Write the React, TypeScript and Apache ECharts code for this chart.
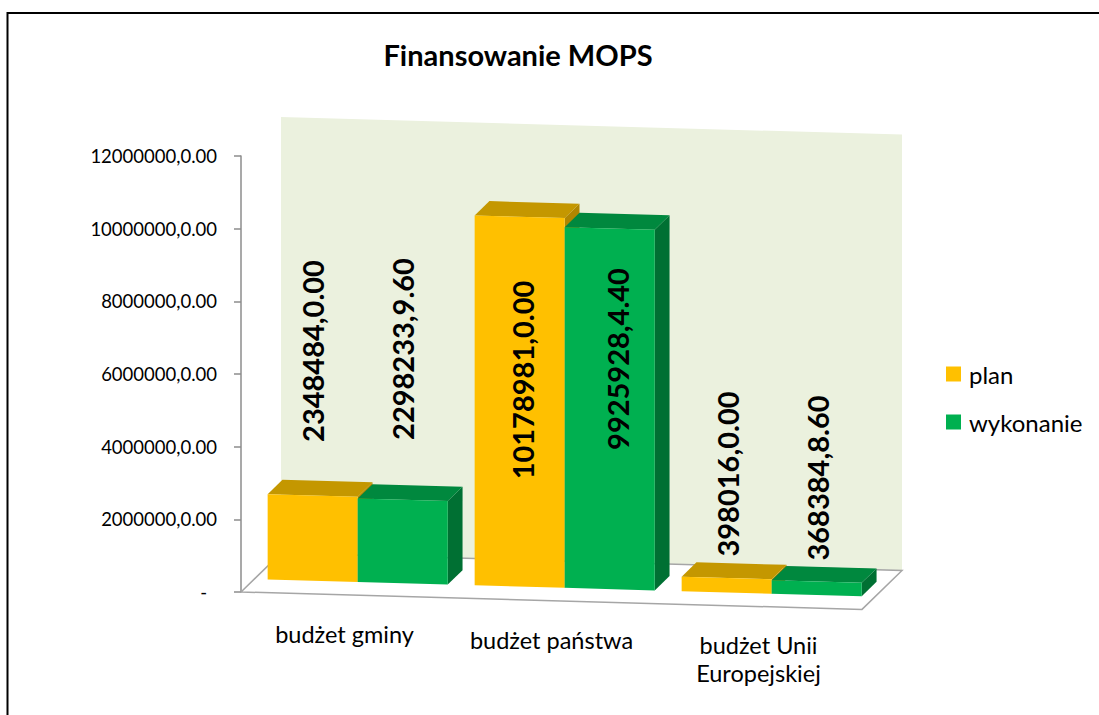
import React, { useEffect, useRef } from "react";
import * as echarts from "echarts";

// ---------- data ----------
const categories = ["budżet gminy", "budżet państwa", "budżet Unii\nEuropejskiej"];
const seriesNames = ["plan", "wykonanie"];
const planValues = [2348484.0, 10178981.0, 398016.0];
const wykonanieValues = [2298233.96, 9925928.44, 368384.86];
const planLabels = ["2348484,0.00", "10178981,0.00", "398016,0.00"];
const wykonanieLabels = ["2298233,9.60", "9925928,4.40", "368384,8.60"];
const yTickLabels = [
  "-",
  "2000000,0.00",
  "4000000,0.00",
  "6000000,0.00",
  "8000000,0.00",
  "10000000,0.00",
  "12000000,0.00",
];
const Y_MAX = 12000000;
const Y_STEP = 2000000;
const titleText = "Finansowanie MOPS";

// ---------- layout / style ----------
const FONT = "Lato, 'Open Sans', sans-serif";
const DX = 40; // depth vector (x)
const DY = 40; // depth vector (y, upward)
const SLOPE = 0.028; // perspective slope of horizontal edges
const D_FRONT = 0.33;
const D_BACK = 0.7;
const BAR_FRAC = 0.435;
// label centres (pixel y) and small x shifts, per series / category
const LABEL_MID_Y = [
  [351, 380, 474],
  [349, 359, 478],
];
const LABEL_DX = [
  [0, 3, 1],
  [0, 8, 1],
];
const COLORS = [
  { front: "#FFC000", top: "#C49700", side: "#B08600" },
  { front: "#00B050", top: "#00883E", side: "#007033" },
];

function makeBarRender(si: number, labels: string[]) {
  return (params: any, api: any) => {
    const cs = params.coordSys;
    const X0 = cs.x;
    const ci = api.value(0);
    const v = api.value(1);
    const band = api.size([1, 0])[0];
    const center = api.coord([ci, 0])[0];
    const bw = band * BAR_FRAC;
    const l0 = si === 0 ? center - bw : center;
    const r0 = l0 + bw;
    const P = (x0: number, val: number, d: number) => {
      const sx = x0 + d * DX;
      const sy = api.coord([ci, val])[1] + SLOPE * (sx - X0) - d * DY;
      return [sx, sy];
    };
    const c = COLORS[si];
    const front = [P(l0, 0, D_FRONT), P(r0, 0, D_FRONT), P(r0, v, D_FRONT), P(l0, v, D_FRONT)];
    const top = [P(l0, v, D_FRONT), P(r0, v, D_FRONT), P(r0, v, D_BACK), P(l0, v, D_BACK)];
    const side = [P(r0, 0, D_FRONT), P(r0, 0, D_BACK), P(r0, v, D_BACK), P(r0, v, D_FRONT)];
    const fc = (front[0][0] + front[1][0]) / 2;
    return {
      type: "group",
      children: [
        { type: "polygon", shape: { points: side }, style: { fill: c.side } },
        { type: "polygon", shape: { points: top }, style: { fill: c.top } },
        { type: "polygon", shape: { points: front }, style: { fill: c.front } },
        {
          type: "text",
          x: fc + LABEL_DX[si][ci],
          y: LABEL_MID_Y[si][ci],
          rotation: Math.PI / 2,
          z2: 10,
          style: {
            text: labels[ci],
            fontSize: 29,
            fontWeight: "bold",
            fontFamily: FONT,
            fill: "#000",
            align: "center",
            verticalAlign: "middle",
          },
        },
      ],
    };
  };
}

const renderBg = (params: any, api: any) => {
  const cs = params.coordSys;
  const X0 = cs.x;
  const X1 = cs.x + cs.width;
  const ci = api.value(0);
  const y0 = api.coord([0, 0])[1];
  const yT = api.coord([0, Y_MAX])[1];
  const P = (x0: number, yp: number, d: number) => {
    const sx = x0 + d * DX;
    return [sx, yp + SLOPE * (sx - X0) - d * DY];
  };
  const children: any[] = [];
  if (ci === 0) {
    children.push({
      type: "polygon",
      shape: { points: [P(X0, yT, 1), P(X1, yT, 1), P(X1, y0, 1), P(X0, y0, 1)] },
      style: { fill: "#EBF1DE" },
    });
    children.push({
      type: "polygon",
      shape: { points: [P(X0, y0, 0), P(X1, y0, 0), P(X1, y0, 1), P(X0, y0, 1)] },
      style: { fill: "#FFFFFF", stroke: "#A6A6A6", lineWidth: 1.5 },
    });
  }
  const cx = api.coord([ci, 0])[0];
  const base = P(cx, y0, 0);
  children.push({
    type: "text",
    x: base[0],
    y: base[1] + 25,
    style: {
      text: categories[ci],
      fontSize: 23.5,
      fontFamily: FONT,
      fill: "#000",
      align: "center",
      verticalAlign: "top",
      lineHeight: 28,
    },
  });
  return { type: "group", children };
};

export default function App() {
  const ref = useRef<HTMLDivElement>(null);
  useEffect(() => {
    if (!ref.current) return;
    const chart = echarts.init(ref.current, undefined, { renderer: "svg" });
    const option: any = {
      animation: false,
      backgroundColor: "#FFFFFF",
      grid: { left: 241, right: 237, top: 156, bottom: 123 },
      legend: {
        data: seriesNames,
        orient: "vertical",
        left: 946,
        top: 361,
        padding: 0,
        icon: "rect",
        itemWidth: 15,
        itemHeight: 15,
        itemGap: 22,
        selectedMode: false,
        textStyle: { fontSize: 24, fontFamily: FONT, color: "#000", lineHeight: 26, padding: [0, 0, 0, 3] },
      },
      xAxis: {
        type: "category",
        data: categories,
        axisLine: { show: false },
        axisTick: { show: false },
        axisLabel: { show: false },
        splitLine: { show: false },
      },
      yAxis: {
        type: "value",
        min: 0,
        max: Y_MAX,
        interval: Y_STEP,
        axisLine: { show: true, lineStyle: { color: "#8C8C8C", width: 1.5 } },
        axisTick: { show: true, length: 7, lineStyle: { color: "#8C8C8C", width: 1.5 } },
        splitLine: { show: false },
        axisLabel: {
          margin: 24,
          fontSize: 18.5,
          fontFamily: FONT,
          color: "#000",
          formatter: (val: number) => {
            const i = Math.round(val / Y_STEP);
            return i === 0 ? "{d|" + yTickLabels[0] + "}" : yTickLabels[i];
          },
          rich: { d: { fontSize: 18.5, fontFamily: FONT, color: "#000", padding: [0, 10, 0, 0] } },
        },
      },
      graphic: [
        {
          type: "polyline",
          shape: { points: [[7.5, 715], [7.5, 13], [1099, 13]] },
          style: { stroke: "#000", lineWidth: 2, fill: null },
          z: 100,
        },
        {
          type: "text",
          x: 518,
          y: 54,
          style: {
            text: titleText,
            fontSize: 29,
            fontWeight: "bold",
            fontFamily: FONT,
            fill: "#000",
            align: "center",
            verticalAlign: "middle",
          },
        },
      ],
      series: [
        {
          type: "custom",
          name: "_bg",
          z: 1,
          renderItem: renderBg,
          encode: { x: 0, y: 1 },
          data: categories.map((_, i) => [i, 0]),
          silent: true,
        },
        {
          type: "custom",
          name: seriesNames[0],
          z: 2,
          itemStyle: { color: COLORS[0].front },
          renderItem: makeBarRender(0, planLabels),
          encode: { x: 0, y: 1 },
          data: planValues.map((v, i) => [i, v]),
        },
        {
          type: "custom",
          name: seriesNames[1],
          z: 3,
          itemStyle: { color: COLORS[1].front },
          renderItem: makeBarRender(1, wykonanieLabels),
          encode: { x: 0, y: 1 },
          data: wykonanieValues.map((v, i) => [i, v]),
        },
      ],
    };
    chart.setOption(option);
    return () => chart.dispose();
  }, []);
  return (
    <div
      ref={ref}
      style={{ position: "fixed", left: 0, top: 0, width: 1099, height: 715, background: "#fff" }}
    />
  );
}
